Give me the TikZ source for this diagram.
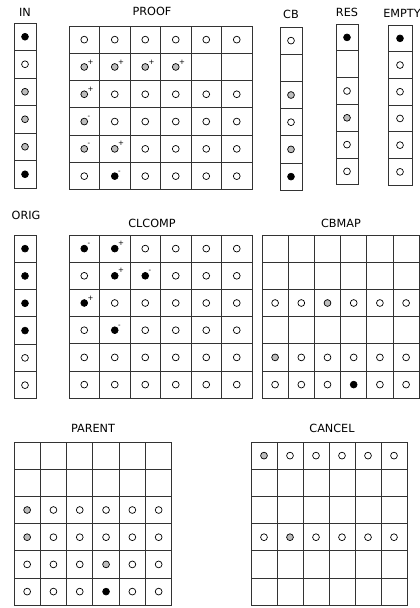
\documentclass[tikz,border=0pt]{standalone}
\usepackage{fontspec}
\setmainfont{DejaVu Sans}
\usetikzlibrary{positioning}
\definecolor{gridline}{gray}{0.2}
\definecolor{dotgray}{gray}{0.74}

\begin{document}
\begin{tikzpicture}[
    x=0.25mm, y=-0.25mm,
    ttl/.style={font=\fontsize{8}{9}\selectfont, inner sep=0pt},
    cell/.style={draw=gridline, line width=0.6pt, inner sep=0pt},
    dot/.style={circle, draw=black, line width=0.5pt, minimum size=1.7mm, inner sep=0pt},
    dw/.style={dot, fill=white},
    dg/.style={dot, fill=dotgray},
    db/.style={dot, fill=black},
    de/.style={inner sep=0pt},
    sgn/.style={font=\fontsize{5}{5}\selectfont, inner sep=0pt},
    dgp/.style={dg, label={[sgn, label distance=0.1mm]40:+}},
    dgm/.style={dg, label={[sgn, label distance=0.1mm]40:-}},
    dbp/.style={db, label={[sgn, label distance=0.1mm]40:+}},
    dbm/.style={db, label={[sgn, label distance=0.1mm]40:-}},
]
\useasboundingbox (0,0) rectangle (420,608);
% ============================================================
% ROW 1:  IN, PROOF, CB, RES, EMPTY
% ============================================================
\node[ttl] (in-t) at (25, 12) {IN};
\foreach \s [count=\r] in {db,dw,dg,dg,dg,db} {
    \node[cell, minimum width=5.5mm, minimum height=6.875mm] (in-\r) at (25, {23+27.5*(\r-0.5)}) {};
    \node[\s] (in-d-\r) at (in-\r) {};
}
% --- PROOF ---
\node[ttl] (proof-t) at (152, 11) {PROOF};
\foreach \row [count=\r] in {{dw,dw,dw,dw,dw,dw},{dgp,dgp,dgp,dgp,de,de},{dgp,dw,dw,dw,dw,dw},
                             {dgm,dw,dw,dw,dw,dw},{dgm,dgp,dw,dw,dw,dw},{dw,dbm,dw,dw,dw,dw}} {
    \foreach \s [count=\c] in \row {
        \node[cell, minimum width=7.625mm, minimum height=6.825mm] (proof-\r-\c) at ({69+30.5*(\c-0.5)}, {26+27.3*(\r-0.5)}) {};
        \node[\s] (proof-d-\r-\c) at (proof-\r-\c) {};
    }
}
% --- CB ---
\node[ttl] (cb-t) at (291, 14) {CB};
\foreach \s [count=\r] in {dw,de,dg,dw,dg,db} {
    \node[cell, minimum width=5.5mm, minimum height=6.8mm] (cb-\r) at (291, {27+27.2*(\r-0.5)}) {};
    \node[\s] (cb-d-\r) at (cb-\r) {};
}
% --- RES ---
\node[ttl] (res-t) at (347, 12) {RES};
\foreach \s [count=\r] in {db,de,dw,dg,dw,dw} {
    \node[cell, minimum width=5.5mm, minimum height=6.7mm] (res-\r) at (347, {24+26.8*(\r-0.5)}) {};
    \node[\s] (res-d-\r) at (res-\r) {};
}
% --- EMPTY ---
\node[ttl] (empty-t) at (402, 13) {EMPTY};
\foreach \s [count=\r] in {db,dw,dw,dw,dw,dw} {
    \node[cell, minimum width=6mm, minimum height=6.675mm] (empty-\r) at (400, {25+26.7*(\r-0.5)}) {};
    \node[\s] (empty-d-\r) at (empty-\r) {};
}
% ============================================================
% ROW 2:  ORIG, CLCOMP, CBMAP
% ============================================================
\node[ttl] (orig-t) at (26, 215) {ORIG};
\foreach \s [count=\r] in {db,db,db,db,dw,dw} {
    \node[cell, minimum width=5.5mm, minimum height=6.825mm] (orig-\r) at (25, {235+27.3*(\r-0.5)}) {};
    \node[\s] (orig-d-\r) at (orig-\r) {};
}
% --- CLCOMP ---
\node[ttl] (clcomp-t) at (152, 223) {CLCOMP};
\foreach \row [count=\r] in {{dbm,dbp,dw,dw,dw,dw},{dw,dbp,dbm,dw,dw,dw},{dbp,dw,dw,dw,dw,dw},
                             {dw,dbm,dw,dw,dw,dw},{dw,dw,dw,dw,dw,dw},{dw,dw,dw,dw,dw,dw}} {
    \foreach \s [count=\c] in \row {
        \node[cell, minimum width=7.625mm, minimum height=6.8mm] (clcomp-\r-\c) at ({69+30.5*(\c-0.5)}, {235+27.2*(\r-0.5)}) {};
        \node[\s] (clcomp-d-\r-\c) at (clcomp-\r-\c) {};
    }
}
% --- CBMAP ---
\node[ttl] (cbmap-t) at (341, 223) {CBMAP};
\foreach \row [count=\r] in {{de,de,de,de,de,de},{de,de,de,de,de,de},{dw,dw,dg,dw,dw,dw},
                             {de,de,de,de,de,de},{dg,dw,dw,dw,dw,dw},{dw,dw,dw,db,dw,dw}} {
    \foreach \s [count=\c] in \row {
        \node[cell, minimum width=6.55mm, minimum height=6.8mm] (cbmap-\r-\c) at ({262+26.2*(\c-0.5)}, {235+27.2*(\r-0.5)}) {};
        \node[\s] (cbmap-d-\r-\c) at (cbmap-\r-\c) {};
    }
}
% ============================================================
% ROW 3:  PARENT, CANCEL
% ============================================================
\node[ttl] (parent-t) at (93, 428) {PARENT};
\foreach \row [count=\r] in {{de,de,de,de,de,de},{de,de,de,de,de,de},{dg,dw,dw,dw,dw,dw},
                             {dg,dw,dw,dw,dw,dw},{dw,dw,dw,dg,dw,dw},{dw,dw,dw,db,dw,dw}} {
    \foreach \s [count=\c] in \row {
        \node[cell, minimum width=6.575mm, minimum height=6.8mm] (parent-\r-\c) at ({14+26.3*(\c-0.5)}, {442+27.2*(\r-0.5)}) {};
        \node[\s] (parent-d-\r-\c) at (parent-\r-\c) {};
    }
}
% --- CANCEL ---
\node[ttl] (cancel-t) at (332, 428) {CANCEL};
\foreach \row [count=\r] in {{dg,dw,dw,dw,dw,dw},{de,de,de,de,de,de},{de,de,de,de,de,de},
                             {dw,dg,dw,dw,dw,dw},{de,de,de,de,de,de},{de,de,de,de,de,de}} {
    \foreach \s [count=\c] in \row {
        \node[cell, minimum width=6.5mm, minimum height=6.8mm] (cancel-\r-\c) at ({251+26*(\c-0.5)}, {442+27.2*(\r-0.5)}) {};
        \node[\s] (cancel-d-\r-\c) at (cancel-\r-\c) {};
    }
}
\end{tikzpicture}
\end{document}
